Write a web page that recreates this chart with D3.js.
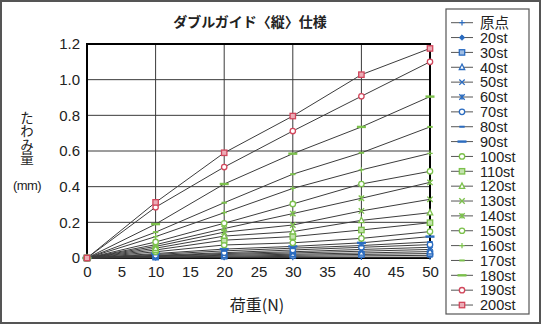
<!DOCTYPE html>
<html>
<head>
<meta charset="utf-8">
<script src="https://cdn.jsdelivr.net/npm/d3@7"></script>
<style>
  html, body { margin: 0; padding: 0; background: #fff; }
  svg { display: block; }
  text { font-family: "Liberation Sans", Arial, "Noto Sans CJK JP", sans-serif; fill: #222; }
  .jp { font-family: "Noto Sans CJK JP", sans-serif; }
</style>
</head>
<body>
<svg id="chart" width="541" height="324"></svg>
<script>
// Load steps (N)
const loads = [0, 10, 20, 30, 40, 50];

// Stroke positions shown in the legend
const seriesNames = ["原点", "20st", "30st", "40st", "50st", "60st", "70st", "80st", "90st",
  "100st", "110st", "120st", "130st", "140st", "150st", "160st", "170st", "180st", "190st", "200st"];

// Deflection (mm) for each stroke at each load step
const deflections = [
  [0, 0.001, 0.002, 0.003, 0.004, 0.005],   // 原点
  [0, 0.003, 0.006, 0.009, 0.012, 0.015],   // 20st
  [0, 0.005, 0.010, 0.015, 0.020, 0.025],   // 30st
  [0, 0.008, 0.015, 0.021, 0.028, 0.036],   // 40st
  [0, 0.010, 0.020, 0.028, 0.038, 0.048],   // 50st
  [0, 0.012, 0.025, 0.035, 0.048, 0.060],   // 60st
  [0, 0.015, 0.030, 0.045, 0.060, 0.075],   // 70st
  [0, 0.020, 0.040, 0.055, 0.070, 0.090],   // 80st
  [0, 0.025, 0.050, 0.065, 0.085, 0.120],   // 90st
  [0, 0.035, 0.073, 0.085, 0.110, 0.148],   // 100st
  [0, 0.045, 0.100, 0.120, 0.157, 0.198],   // 110st
  [0, 0.055, 0.123, 0.148, 0.211, 0.254],   // 120st
  [0, 0.065, 0.145, 0.185, 0.264, 0.329],   // 130st
  [0, 0.075, 0.165, 0.249, 0.335, 0.424],   // 140st
  [0, 0.090, 0.195, 0.303, 0.415, 0.486],   // 150st
  [0, 0.120, 0.254, 0.390, 0.494, 0.587],   // 160st
  [0, 0.145, 0.310, 0.470, 0.590, 0.735],   // 170st
  [0, 0.190, 0.415, 0.585, 0.735, 0.905],   // 180st
  [0, 0.285, 0.510, 0.712, 0.907, 1.100],   // 190st
  [0, 0.312, 0.590, 0.796, 1.028, 1.175]    // 200st
];

const xTicks = [0, 5, 10, 15, 20, 25, 30, 35, 40, 45, 50];
const xGrid = [10, 20, 30, 40];
const yTicks = [0, 0.2, 0.4, 0.6, 0.8, 1.0, 1.2];

// Marker shape and colour per series
const BLUE = "#2b6cc0", GREEN = "#7cc14c", RED = "#d2475c";
const markerStyles = [
  { shape: "plus", color: BLUE }, { shape: "diamond", color: BLUE }, { shape: "square", color: BLUE },
  { shape: "triangle", color: BLUE }, { shape: "cross", color: BLUE }, { shape: "star", color: BLUE },
  { shape: "circle", color: BLUE }, { shape: "dash", color: BLUE }, { shape: "longdash", color: BLUE },
  { shape: "circle", color: GREEN }, { shape: "square", color: GREEN }, { shape: "triangle", color: GREEN },
  { shape: "cross", color: GREEN }, { shape: "star", color: GREEN }, { shape: "circle", color: GREEN },
  { shape: "plus", color: GREEN }, { shape: "dash", color: GREEN }, { shape: "longdash", color: GREEN },
  { shape: "circle", color: RED }, { shape: "square", color: RED }
];

const svg = d3.select("#chart");
const W = 541, H = 324;

// Outer frame
svg.append("rect").attr("x", 1).attr("y", 1).attr("width", W - 2).attr("height", H - 2)
  .attr("fill", "#fff").attr("stroke", "#555").attr("stroke-width", 2);

const x = d3.scaleLinear().domain([0, 50]).range([87, 430]);
const y = d3.scaleLinear().domain([0, 1.2]).range([258, 44]);

// Grid
const grid = svg.append("g").attr("stroke", "#3a3a3a").attr("stroke-width", 1);
grid.selectAll("line.h").data(yTicks.slice(1, -1)).join("line")
  .attr("x1", x(0)).attr("x2", x(50)).attr("y1", d => y(d)).attr("y2", d => y(d));
grid.selectAll("line.v").data(xGrid).join("line")
  .attr("y1", y(0)).attr("y2", y(1.2)).attr("x1", d => x(d)).attr("x2", d => x(d));

// Axes (tick labels only; the frame is drawn separately)
const xAxis = svg.append("g").attr("transform", `translate(0,${y(0)})`)
  .call(d3.axisBottom(x).tickValues(xTicks).tickSize(0).tickPadding(8).tickFormat(d3.format("d")));
const yAxis = svg.append("g").attr("transform", `translate(${x(0)},0)`)
  .call(d3.axisLeft(y).tickValues(yTicks).tickSize(0).tickPadding(7)
    .tickFormat(d => d === 0 ? "0" : d3.format(".1f")(d)));
[xAxis, yAxis].forEach(a => {
  a.select(".domain").remove();
  a.selectAll("text").attr("font-size", 15).attr("fill", "#222")
    .attr("font-family", '"Liberation Sans", Arial, sans-serif');
});

// Plot frame
svg.append("rect").attr("x", x(0)).attr("y", y(1.2))
  .attr("width", x(50) - x(0)).attr("height", y(0) - y(1.2))
  .attr("fill", "none").attr("stroke", "#000").attr("stroke-width", 2);

// Series lines
const line = d3.line().x((d, i) => x(loads[i])).y(d => y(d));
svg.append("g").selectAll("path").data(deflections).join("path")
  .attr("d", line).attr("fill", "none").attr("stroke", "#3c3c3c").attr("stroke-width", 1);

// Marker drawing
function drawMarker(g, shape, color, cx, cy) {
  const s = 2.7;
  switch (shape) {
    case "plus":
      g.append("path").attr("d", `M${cx - s},${cy}H${cx + s}M${cx},${cy - s}V${cy + s}`)
        .attr("stroke", color).attr("stroke-width", 1.2);
      break;
    case "diamond":
      g.append("path").attr("d", `M${cx},${cy - s}L${cx + s},${cy}L${cx},${cy + s}L${cx - s},${cy}Z`)
        .attr("fill", color).attr("stroke", color);
      break;
    case "square":
      g.append("rect").attr("x", cx - s).attr("y", cy - s).attr("width", 2 * s).attr("height", 2 * s)
        .attr("fill", d3.interpolateRgb(color, "#fff")(0.55)).attr("stroke", color).attr("stroke-width", 1.3);
      break;
    case "triangle":
      g.append("path").attr("d", `M${cx},${cy - s - 0.5}L${cx + s},${cy + s - 0.5}L${cx - s},${cy + s - 0.5}Z`)
        .attr("fill", "#fff").attr("stroke", color).attr("stroke-width", 1.3);
      break;
    case "cross":
      g.append("path").attr("d", `M${cx - s},${cy - s}L${cx + s},${cy + s}M${cx - s},${cy + s}L${cx + s},${cy - s}`)
        .attr("stroke", color).attr("stroke-width", 1.3);
      break;
    case "star":
      g.append("path").attr("d", `M${cx - s},${cy - s}L${cx + s},${cy + s}M${cx - s},${cy + s}L${cx + s},${cy - s}M${cx},${cy - s}V${cy + s}`)
        .attr("stroke", color).attr("stroke-width", 1.3);
      break;
    case "circle":
      g.append("circle").attr("cx", cx).attr("cy", cy).attr("r", s)
        .attr("fill", "#fff").attr("stroke", color).attr("stroke-width", 1.3);
      break;
    case "dash":
      g.append("path").attr("d", `M${cx - s},${cy}H${cx + s}`).attr("stroke", color).attr("stroke-width", 2);
      break;
    case "longdash":
      g.append("path").attr("d", `M${cx - 4.5},${cy}H${cx + 4.5}`).attr("stroke", color).attr("stroke-width", 2.4);
      break;
  }
}

// Markers on each data point
const markers = svg.append("g");
deflections.forEach((vals, si) => {
  const st = markerStyles[si];
  vals.forEach((v, i) => drawMarker(markers, st.shape, st.color, x(loads[i]), y(v)));
});

// Title
svg.append("text").attr("class", "jp").attr("x", 250).attr("y", 27).attr("text-anchor", "middle")
  .attr("font-size", 14).attr("font-weight", "bold").text("ダブルガイド〈縦〉仕様");

// Y axis label, set vertically
svg.append("text").attr("class", "jp").attr("x", 27).attr("y", 111)
  .style("writing-mode", "vertical-rl").attr("font-size", 13.5).text("たわみ量");
svg.append("text").attr("x", 27).attr("y", 190).attr("text-anchor", "middle")
  .attr("font-size", 13).attr("letter-spacing", -0.6).text("(mm)");

// X axis label
svg.append("text").attr("class", "jp").attr("x", 257).attr("y", 311).attr("text-anchor", "middle")
  .attr("font-size", 16).text("荷重(N)");

// Legend
const legend = svg.append("g");
legend.append("rect").attr("x", 446).attr("y", 9).attr("width", 83).attr("height", 305)
  .attr("fill", "#fff").attr("stroke", "#555").attr("stroke-width", 1.2);
seriesNames.forEach((name, i) => {
  const ly = 22.7 + i * 14.86;
  legend.append("line").attr("x1", 451).attr("x2", 473).attr("y1", ly).attr("y2", ly)
    .attr("stroke", "#555").attr("stroke-width", 1);
  drawMarker(legend, markerStyles[i].shape, markerStyles[i].color, 462, ly);
  legend.append("text").attr("x", 480).attr("y", ly + 5.3).attr("font-size", 14.5)
    .attr("font-family", i === 0 ? '"Noto Sans CJK JP", sans-serif' : '"Liberation Sans", Arial, sans-serif')
    .text(name);
});
</script>
</body>
</html>
